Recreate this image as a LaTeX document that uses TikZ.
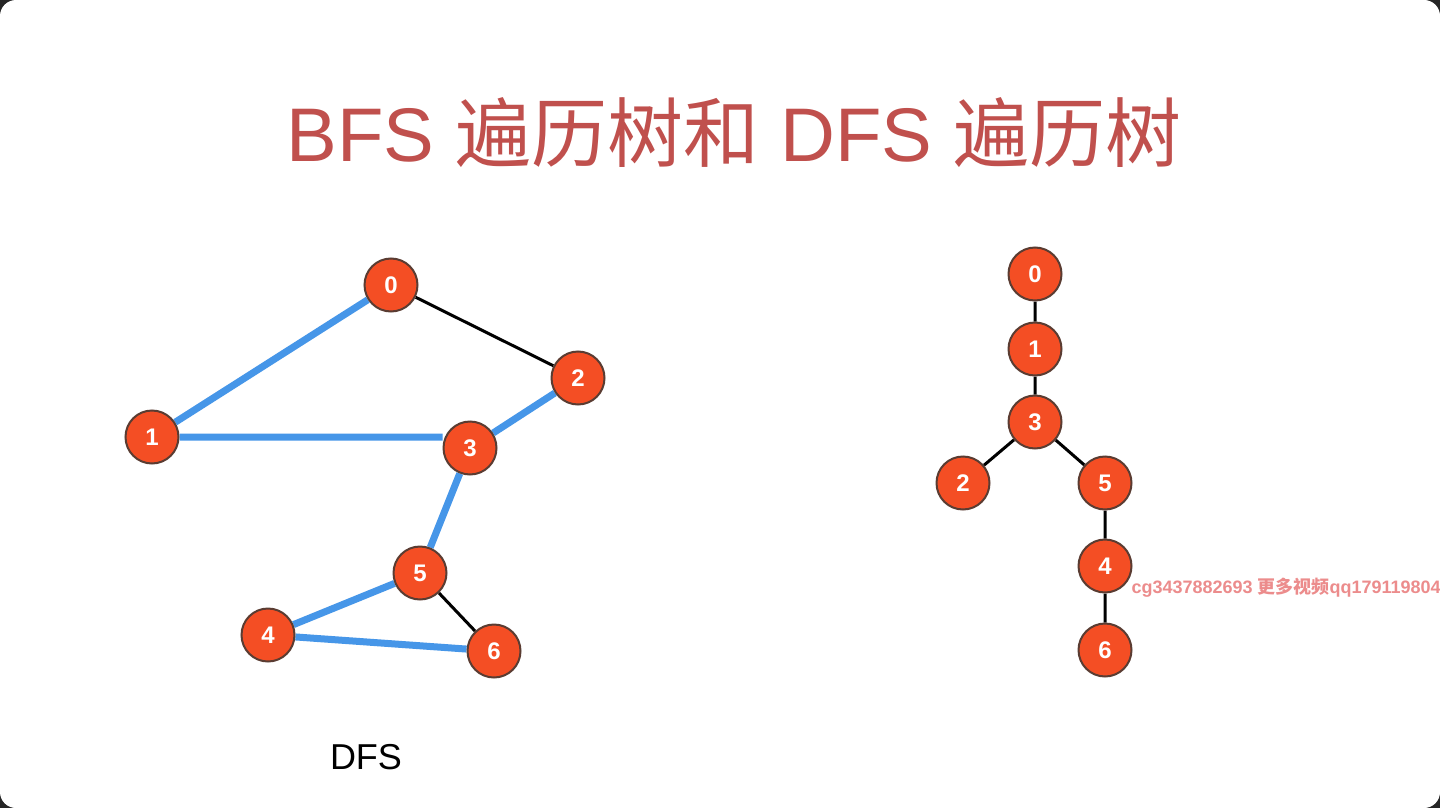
\documentclass[tikz,border=0pt]{standalone}
\usepackage{fontspec}
\setsansfont{Liberation Sans}
\newfontfamily\cjk{Noto Sans CJK SC}
\usepackage{xcolor}
\usetikzlibrary{positioning,calc,backgrounds}
\definecolor{vtxred}{RGB}{244,78,36}
\definecolor{vtxrim}{RGB}{90,60,50}
\definecolor{pathblue}{RGB}{70,150,232}
\definecolor{titlered}{RGB}{192,80,77}
\definecolor{markpink}{RGB}{236,140,140}
\tikzset{
  vtx/.style={circle,draw=vtxrim,line width=2pt,fill=vtxred,minimum size=53pt,
              inner sep=0pt,text=white,font=\sffamily\bfseries\fontsize{24}{24}\selectfont},
  tedge/.style={draw=pathblue,line width=7pt},
  bedge/.style={draw=black,line width=3pt},
}
\begin{document}
\begin{tikzpicture}[x=1pt,y=-1pt]
  \useasboundingbox (0,0) rectangle (1440,808);
  \node[text=titlered,font=\sffamily\fontsize{76}{82}\selectfont] (title) at (734,133)
    {BFS {\cjk 遍历树和} DFS {\cjk 遍历树}};
  % graph with the dfs path
  \node[vtx] (g0) at (391,285) {0};
  \node[vtx] (g2) at (578,378) {2};
  \node[vtx] (g1) at (152,437) {1};
  \node[vtx] (g3) at (470,448) {3};
  \node[vtx] (g5) at (420,573) {5};
  \node[vtx] (g4) at (268,635) {4};
  \node[vtx] (g6) at (494,651) {6};
  \node[font=\sffamily\fontsize{36}{40}\selectfont] (cap) at (366,757) {DFS};
  % tree
  \node[vtx] (t0) at (1035,274) {0};
  \node[vtx] (t1) at (1035,349) {1};
  \node[vtx] (t3) at (1035,422) {3};
  \node[vtx] (t2) at (963,483) {2};
  \node[vtx] (t5) at (1105,483) {5};
  \node[vtx] (t4) at (1105,566) {4};
  \node[vtx] (t6) at (1105,650) {6};
  \begin{scope}
    \clip (0,0) rectangle (1440,808);
    \node[anchor=west,text=markpink,font=\sffamily\bfseries\fontsize{18}{18}\selectfont] (mark) at (1128,588)
      {cg3437882693 {\cjk 更多视频}qq1791198045};
  \end{scope}
  \begin{scope}[on background layer]
    \fill[black!85] (0,0) rectangle (1440,808);
    \fill[white,rounded corners=16pt] (0,0) rectangle (1440,808);
    \draw[tedge] (g0) -- (g1) (g1.east) -- (g1.east -| g3.west) (g3) -- (g2) (g3) -- (g5) (g5) -- (g4) (g4) -- (g6);
    \draw[bedge] (g0) -- (g2) (g5) -- (g6);
    \draw[bedge] (t0) -- (t1) (t1) -- (t3) (t3) -- (t2) (t3) -- (t5) (t5) -- (t4) (t4) -- (t6);
  \end{scope}
\end{tikzpicture}
\end{document}
